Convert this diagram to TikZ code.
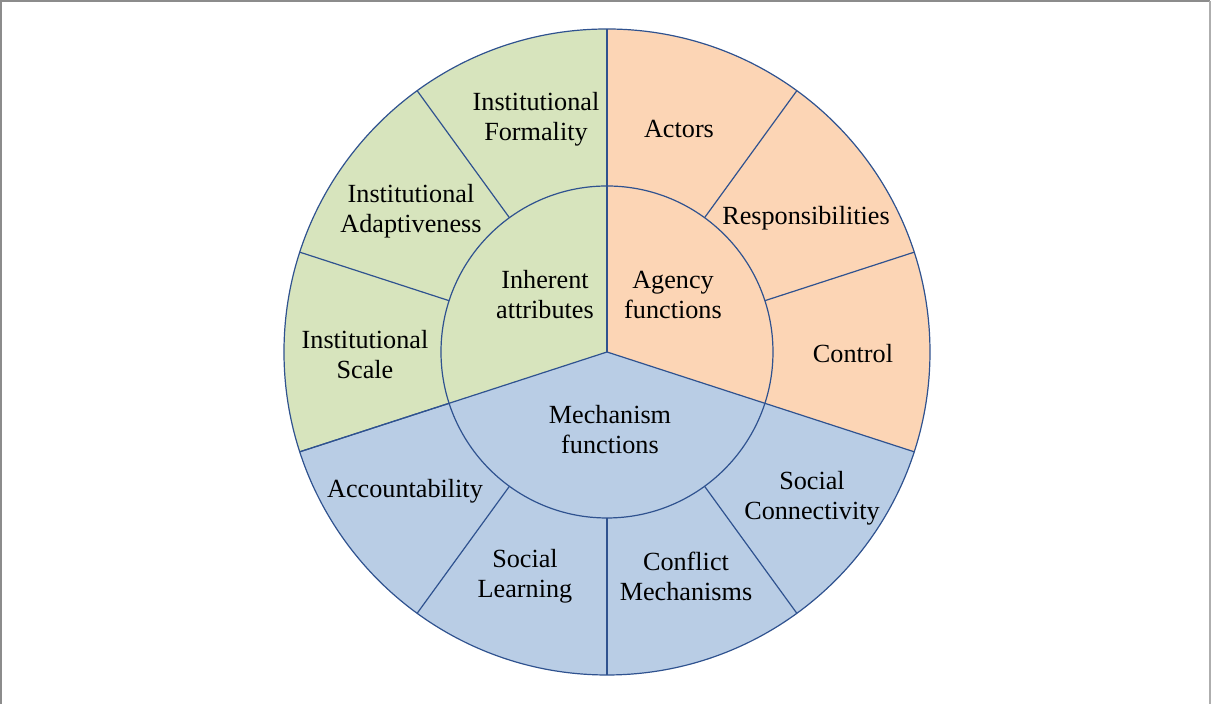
\documentclass[tikz,border=0pt]{standalone}
\usepackage{fontspec}
\setmainfont{Liberation Serif}
\usepackage{tikz}
\usetikzlibrary{positioning, calc}
\usepackage{xcolor}
\definecolor{inherentgreen}{HTML}{D7E4BD}
\definecolor{agencyorange}{HTML}{FCD5B5}
\definecolor{mechblue}{HTML}{B9CDE5}
\definecolor{ringline}{HTML}{2F528F}
\definecolor{framegray}{HTML}{8C8C8C}

\begin{document}
\begin{tikzpicture}[
        x=0.5pt, y=0.5pt,
        ring/.style={draw=ringline, line width=0.6pt},
        label/.style={align=center, inner sep=0pt, font=\fontsize{13.1}{15}\selectfont}
    ]
        \useasboundingbox (-607,-352) rectangle (605,352);

        % Frame
        \draw[framegray, line width=1pt] (-606,-352) -- (-606,351) -- (603,351);
        \draw[framegray!70, line width=0.8pt] (603,351) -- (603,-352);

        % Sectors
        \fill[inherentgreen] (0,0) -- (198:323) arc[start angle=198, end angle=90, radius=323] -- cycle;
        \fill[agencyorange] (0,0) -- (90:323) arc[start angle=90, end angle=-18, radius=323] -- cycle;
        \fill[mechblue] (0,0) -- (-18:323) arc[start angle=-18, end angle=-162, radius=323] -- cycle;

        % Lines
        \draw[ring] (0,0) circle[radius=323];
        \foreach \a in {90, -18, 198}
            \draw[ring] (0,0) -- (\a:323);
        \foreach \a in {54, 18, -54, -90, -126, -162, 162, 126}
            \draw[ring] (\a:166) -- (\a:323);
        \draw[ring] (0,0) circle[radius=166];

        % Outer labels
        \node (formality) [label] at (-71,233) {Institutional\\Formality};
        \node (actors) [label] at (72,223) {Actors};
        \node (resp) [label] at (199,134) {Responsibilities};
        \node (control) [label] at (246,-2) {Control};
        \node (connect) [label] at (205,-146) {Social\\Connectivity};
        \node (conflict) [label] at (79,-224) {Conflict\\Mechanisms};
        \node (learning) [label] at (-82,-224) {Social\\Learning};
        \node (account) [label] at (-202,-139) {Accountability};
        \node (scale) [label] at (-242,-3) {Institutional\\Scale};
        \node (adapt) [label] at (-196,141) {Institutional\\Adaptiveness};

        % Inner labels
        \node (inherent) [label] at (-62,57) {Inherent\\attributes};
        \node (agency) [label] at (66,57) {Agency\\functions};
        \node (mechanism) [label] at (3,-78) {Mechanism\\functions};

    \end{tikzpicture}
\end{document}
